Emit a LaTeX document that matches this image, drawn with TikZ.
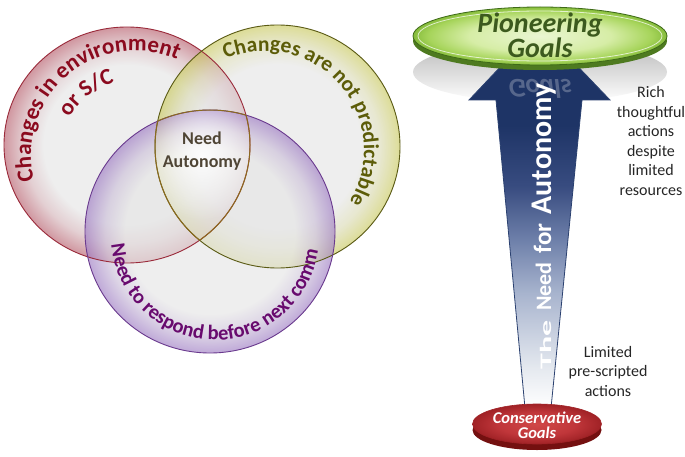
\documentclass[tikz,border=0pt]{standalone}
\usepackage{fontspec}
\setmainfont{Carlito}
\usepackage{graphicx}
\usetikzlibrary{decorations.text,fadings,shadings}
\definecolor{cgray}{HTML}{E5E5E5}
\definecolor{redrim}{HTML}{B8606E}
\definecolor{redline}{HTML}{9A2A3A}
\definecolor{yelrim}{HTML}{CACA60}
\definecolor{yelline}{HTML}{5A5A14}
\definecolor{purrim}{HTML}{9E7CC4}
\definecolor{purline}{HTML}{6A3A8E}
\definecolor{redtxt}{HTML}{8B0A1E}
\definecolor{yeltxt}{HTML}{5C5C08}
\definecolor{purtxt}{HTML}{680A6E}
\definecolor{centxt}{HTML}{4F4535}
\definecolor{lensline}{HTML}{8B6A1E}
\definecolor{arrA}{HTML}{E6EAF0}
\definecolor{arrB}{HTML}{A8B4CE}
\definecolor{arrC}{HTML}{6E80AA}
\definecolor{arrD}{HTML}{384C80}
\definecolor{arrE}{HTML}{1E3466}
\definecolor{arrline}{HTML}{2B4170}
\definecolor{gA}{HTML}{EAF6D2}
\definecolor{gB}{HTML}{D6EDA6}
\definecolor{gC}{HTML}{A6D45A}
\definecolor{gD}{HTML}{86BC3C}
\definecolor{grim}{HTML}{4E7A20}
\definecolor{gline}{HTML}{3E6A18}
\definecolor{gtxt}{HTML}{3C5A1E}
\definecolor{rA}{HTML}{D04848}
\definecolor{rB}{HTML}{C0363A}
\definecolor{rC}{HTML}{A02226}
\definecolor{rrim}{HTML}{741010}
\definecolor{refl}{HTML}{7E8AA6}
\pgfdeclareradialshading{redglow}{\pgfpoint{0bp}{0bp}}{color(0bp)=(cgray); color(17bp)=(cgray); color(21bp)=(redrim!35!cgray); color(23.5bp)=(redrim!75!cgray); color(25bp)=(redrim); color(50bp)=(redrim)}
\pgfdeclareradialshading{yelglow}{\pgfpoint{0bp}{0bp}}{color(0bp)=(cgray); color(17bp)=(cgray); color(21bp)=(yelrim!35!cgray); color(23.5bp)=(yelrim!75!cgray); color(25bp)=(yelrim); color(50bp)=(yelrim)}
\pgfdeclareradialshading{purglow}{\pgfpoint{0bp}{0bp}}{color(0bp)=(cgray); color(17bp)=(cgray); color(21bp)=(purrim!35!cgray); color(23.5bp)=(purrim!75!cgray); color(25bp)=(purrim); color(50bp)=(purrim)}
\pgfdeclareradialshading{greenglow}{\pgfpoint{0bp}{0bp}}{color(0bp)=(gA); color(14bp)=(gB); color(22bp)=(gC); color(25bp)=(gD); color(50bp)=(gD)}
\pgfdeclareradialshading{redgoal}{\pgfpoint{0bp}{0bp}}{color(0bp)=(rA); color(15bp)=(rB); color(25bp)=(rC); color(50bp)=(rC)}
\pgfdeclareverticalshading{arrowshade}{100bp}{color(0bp)=(white); color(25bp)=(white); color(30bp)=(arrA); color(40bp)=(arrB); color(47bp)=(arrC); color(54bp)=(arrD); color(62bp)=(arrE); color(100bp)=(arrE)}
\tikzfading[name=centerglow, inner color=transparent!0, outer color=transparent!100]
\tikzset{
  curvtxt/.style={decorate, decoration={text along path, text align=center, text={#1}}},
  sidetxt/.style={align=center, font=\fontsize{16}{19.6}\selectfont, text=black!85, inner sep=0pt},
}
\begin{document}
\begin{tikzpicture}[x=1pt,y=1pt]
\fill[white] (0,0) rectangle (685,456);
\useasboundingbox (0,0) rectangle (685,456);
% Venn circles
\def\redc{(127,311) ellipse [x radius=123, y radius=118]}
\def\yelc{(277.5,309.5) ellipse [x radius=122.5, y radius=121.5]}
\def\purc{(210,224.5) ellipse [x radius=125, y radius=121.5]}
\shade[shading=redglow, opacity=0.65] \redc;
\shade[shading=yelglow, opacity=0.65] \yelc;
\shade[shading=purglow, opacity=0.65] \purc;
\begin{scope}
  \clip \redc; \clip \yelc; \clip \purc;
  \fill[white, path fading=centerglow, opacity=0.9] (202,300) circle (64);
\end{scope}
\draw[redline, line width=0.9pt] \redc;
\draw[yelline, line width=0.9pt] \yelc;
\draw[purline, line width=0.9pt] \purc;
\begin{scope}\clip \yelc; \clip \purc; \draw[lensline, line width=1pt] \redc; \end{scope}
\begin{scope}\clip \redc; \clip \purc; \draw[lensline, line width=1pt] \yelc; \end{scope}
\begin{scope}\clip \redc; \clip \yelc; \draw[lensline, line width=1pt] \purc; \end{scope}
\node[align=center, text=centxt, font=\fontsize{18}{23}\selectfont\bfseries, inner sep=0pt] (need) at (202,304.5) {Need\\Autonomy};
\path[curvtxt={|\fontsize{23}{23}\selectfont\bfseries\color{redtxt}|Changes in environment}] (135,301) ++(215:104) arc[start angle=215, end angle=45, radius=104];
\path[curvtxt={|\fontsize{23}{23}\selectfont\bfseries\color{redtxt}|or S/C}] (135,301) ++(210:75.5) arc[start angle=210, end angle=46, radius=75.5];
\path[curvtxt={|\fontsize{21.5}{21.5}\selectfont\bfseries\color{yeltxt}|Changes are not predictable}] (265,306) ++(130:99) arc[start angle=130, end angle=-48, radius=99];
\path[curvtxt={|\fontsize{20.5}{20.5}\selectfont\bfseries\color{purtxt}|Need to respond before next comm}] (215,220) ++(175:104) arc[start angle=175, end angle=362, radius=104];
% right side
\shade[top color=gray!55, middle color=gray!30, bottom color=white] (540,384) ellipse [x radius=127, y radius=30];
\coordinate (apex) at (539,430);
\coordinate (rw) at (610,356);
\coordinate (rs) at (582,356);
\coordinate (rb) at (551,48);
\coordinate (lb) at (525,48);
\coordinate (ls) at (496,356);
\coordinate (lw) at (469,356);
\shade[shading=arrowshade, draw=arrline, line width=0.8pt, line join=miter] (apex) -- (rw) -- (rs) -- (rb) -- (lb) -- (ls) -- (lw) -- cycle;
\node[yscale=-1, text=refl, opacity=0.6, font=\fontsize{27}{27}\selectfont\bfseries\itshape, inner sep=0pt] (reflect) at (540,367) {Goals};
\node[rotate=90, anchor=base west, text=white, font=\bfseries, inner sep=0pt] (arrowtxt) at (551,86)
  {\scalebox{2.0}[1]{\fontsize{16}{16}\selectfont The}\hspace{10pt}{\fontsize{22}{22}\selectfont Need}\hspace{9pt}{\fontsize{25}{25}\selectfont for}\hspace{9pt}{\fontsize{30}{30}\selectfont Autonomy}};
% green goal disk
\fill[grim] (540,415) ellipse [x radius=127, y radius=29];
\shade[shading=greenglow, draw=gline, line width=0.8pt] (540,420) ellipse [x radius=127, y radius=29];
\draw[white, opacity=0.7, line width=0.8pt] (540,420) ellipse [x radius=122, y radius=25];
\node[align=center, text=gtxt, font=\fontsize{28}{24}\selectfont\bfseries\itshape, inner sep=0pt] (pion) at (540,421) {Pioneering\\Goals};
% red goal disk
\fill[rrim] (537,26) ellipse [x radius=64.5, y radius=20];
\shade[shading=redgoal, draw=rC, line width=0.6pt] (537,32) ellipse [x radius=64.5, y radius=20];
\node[align=center, text=white, font=\fontsize{16.5}{15}\selectfont\bfseries\itshape, inner sep=0pt] (cons) at (537,30.5) {Conservative\\Goals};
% side texts
\node[sidetxt] (rich) at (651,315) {Rich\\thoughtful\\actions\\despite\\limited\\resources};
\node[sidetxt] (limited) at (608,84.5) {Limited\\pre-scripted\\actions};
\end{tikzpicture}
\end{document}
